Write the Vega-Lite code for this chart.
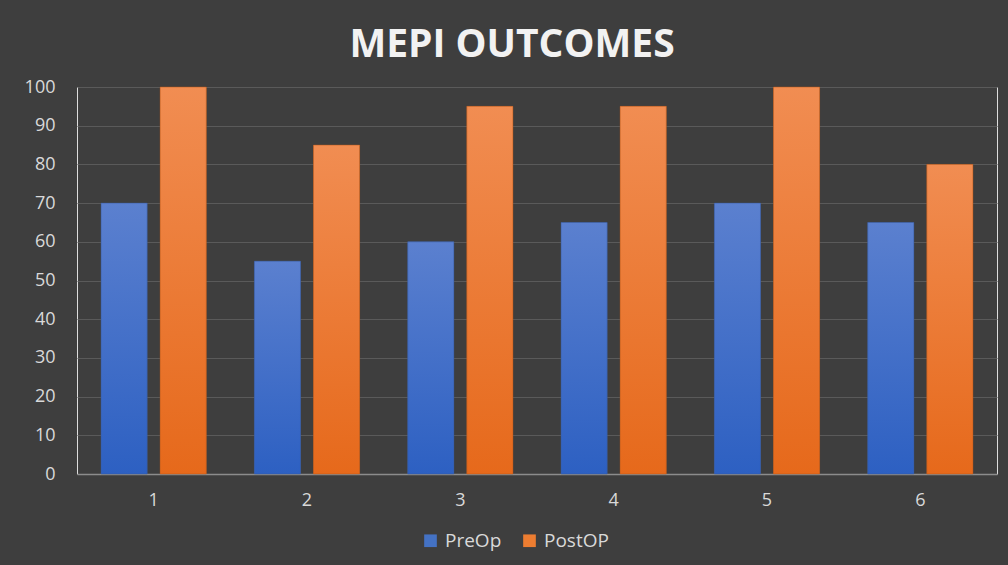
{
  "$schema": "https://vega.github.io/schema/vega-lite/v6.json",
  "width": 920,
  "height": 387,
  "autosize": {"type": "none"},
  "padding": {"left": 77, "top": 87, "right": 11, "bottom": 91},
  "background": "#3e3e3e",
  "title": {
    "text": "MEPI OUTCOMES",
    "font": "Open Sans",
    "fontSize": 39,
    "fontWeight": "bold",
    "color": "#f2f2f2",
    "anchor": "middle",
    "dx": -25,
    "offset": 13
  },
  "data": {
    "values": [
      {"cat": "1", "series": "PreOp", "value": 70},
      {"cat": "1", "series": "PostOP", "value": 100},
      {"cat": "2", "series": "PreOp", "value": 55},
      {"cat": "2", "series": "PostOP", "value": 85},
      {"cat": "3", "series": "PreOp", "value": 60},
      {"cat": "3", "series": "PostOP", "value": 95},
      {"cat": "4", "series": "PreOp", "value": 65},
      {"cat": "4", "series": "PostOP", "value": 95},
      {"cat": "5", "series": "PreOp", "value": 70},
      {"cat": "5", "series": "PostOP", "value": 100},
      {"cat": "6", "series": "PreOp", "value": 65},
      {"cat": "6", "series": "PostOP", "value": 80}
    ]
  },
  "encoding": {
    "x": {
      "field": "cat",
      "type": "nominal",
      "scale": {"paddingInner": 0.314, "paddingOuter": 0.157},
      "axis": {
        "title": null,
        "labelAngle": 0,
        "labelFont": "Open Sans",
        "labelFontSize": 18,
        "labelColor": "#d9d9d9",
        "labelPadding": 17,
        "ticks": false,
        "domainColor": "#8c8c8c",
        "domainWidth": 1.5
      }
    },
    "xOffset": {
      "field": "series",
      "type": "nominal",
      "scale": {"domain": ["PreOp", "PostOP"], "paddingInner": 0.22}
    },
    "y": {
      "field": "value",
      "type": "quantitative",
      "scale": {"domain": [0, 100]},
      "axis": {
        "title": null,
        "values": [0, 10, 20, 30, 40, 50, 60, 70, 80, 90, 100],
        "labelFont": "Open Sans",
        "labelFontSize": 18,
        "labelColor": "#d9d9d9",
        "labelPadding": 22,
        "ticks": false,
        "domain": false,
        "gridColor": "#5a5a5a",
        "gridWidth": 1
      }
    }
  },
  "layer": [
    {
      "mark": {"type": "bar"},
      "encoding": {
        "color": {
          "field": "series",
          "type": "nominal",
          "scale": {"domain": ["PreOp", "PostOP"], "range": ["#4472c4", "#ed7d31"]},
          "legend": {
            "title": null,
            "orient": "none",
            "direction": "horizontal",
            "legendX": 344,
            "legendY": 444,
            "symbolType": "square",
            "symbolSize": 160,
            "symbolStrokeWidth": 0,
            "labelFont": "Open Sans",
            "labelFontSize": 19,
            "labelColor": "#d9d9d9",
            "columnPadding": 18,
            "labelOffset": 5
          }
        }
      }
    },
    {
      "transform": [{"filter": "datum.series === 'PreOp'"}],
      "mark": {
        "type": "bar",
        "stroke": "#3a5a9a",
        "strokeWidth": 0.5,
        "color": {
          "gradient": "linear", "x1": 0, "y1": 0, "x2": 0, "y2": 1,
          "stops": [{"offset": 0, "color": "#5b80cf"}, {"offset": 1, "color": "#2d60c2"}]
        }
      }
    },
    {
      "transform": [{"filter": "datum.series === 'PostOP'"}],
      "mark": {
        "type": "bar",
        "stroke": "#b5561a",
        "strokeWidth": 0.5,
        "color": {
          "gradient": "linear", "x1": 0, "y1": 0, "x2": 0, "y2": 1,
          "stops": [{"offset": 0, "color": "#f18d52"}, {"offset": 1, "color": "#e6691b"}]
        }
      }
    }
  ]
}
